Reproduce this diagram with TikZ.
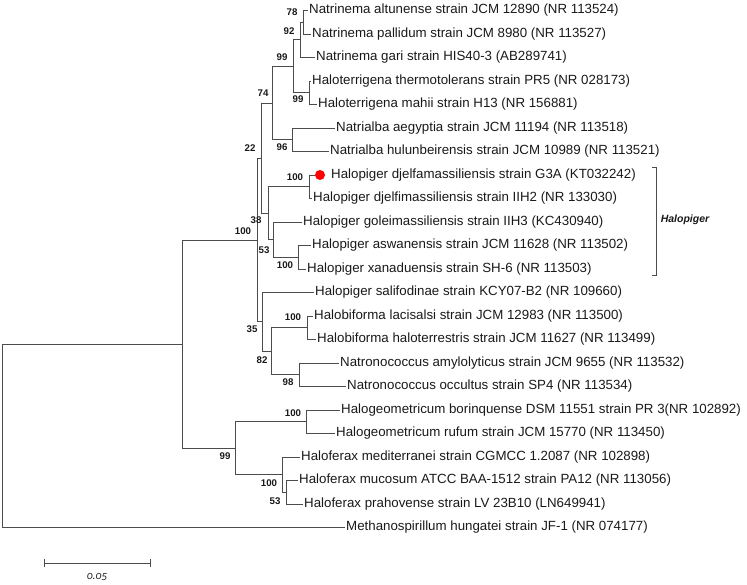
\documentclass[tikz,border=0pt]{standalone}
\usepackage{fontspec}
\setmainfont{Liberation Sans}
\newfontfamily\scalefnt[Numbers=OldStyle]{Carlito}
\begin{document}
\begin{tikzpicture}[x=1pt,y=-1pt,
  br/.style={draw=black!70,line width=0.9pt},
  leaf/.style={anchor=west,inner sep=1.5pt,text=black!90,font=\fontsize{13.3}{15}\selectfont},
  bs/.style={inner sep=0pt,text=black!90,font=\fontsize{9.7}{11}\selectfont\bfseries},
  pt/.style={coordinate}]
\useasboundingbox (0,0) rectangle (747,584);
% internal nodes
\coordinate (n78) at (303,22.25);
\coordinate (n92) at (300,39.9);
\coordinate (n99b) at (309,92.75);
\coordinate (n99a) at (293,66.3);
\coordinate (n96) at (292,139.75);
\coordinate (n74) at (272,103);
\coordinate (nG) at (309,186.75);
\coordinate (nAX) at (298,257.25);
\coordinate (n53a) at (273,239.6);
\coordinate (n38) at (268,213.2);
\coordinate (n22) at (261,158.1);
\coordinate (nHb) at (307,327.75);
\coordinate (n98) at (299,374.75);
\coordinate (n82) at (271,351.25);
\coordinate (n35) at (262,321.9);
\coordinate (nB) at (257,240);
\coordinate (nHg) at (306,421.75);
\coordinate (n53b) at (286,492.25);
\coordinate (nHf) at (282,474.6);
\coordinate (nC) at (235,448.2);
\coordinate (nA) at (182,344.1);
\coordinate (root) at (2,435.8);
% leaves
\node[leaf] (L0) at (307.5,10.5) {Natrinema altunense strain JCM 12890 (NR 113524)};
\node[leaf] (L1) at (310.5,34) {Natrinema pallidum strain JCM 8980 (NR 113527)};
\node[leaf] (L2) at (314.5,57.5) {Natrinema gari strain HIS40-3 (AB289741)};
\node[leaf] (L3) at (310.5,81) {Haloterrigena thermotolerans strain PR5 (NR 028173)};
\node[leaf] (L4) at (316.5,104.5) {Haloterrigena mahii strain H13 (NR 156881)};
\node[leaf] (L5) at (334.5,128) {Natrialba aegyptia strain JCM 11194 (NR 113518)};
\node[leaf] (L6) at (328.5,151.5) {Natrialba hulunbeirensis strain JCM 10989 (NR 113521)};
\node[circle,fill=red,minimum size=10pt,inner sep=0pt] (dot) at (320,175) {};
\node[leaf] (L7) at (329.5,175) {Halopiger djelfamassiliensis strain G3A (KT032242)};
\node[leaf] (L8) at (311.5,198.5) {Halopiger djelfimassiliensis strain IIH2 (NR 133030)};
\node[leaf] (L9) at (301.5,222) {Halopiger goleimassiliensis strain IIH3 (KC430940)};
\node[leaf] (L10) at (310.5,245.5) {Halopiger aswanensis strain JCM 11628 (NR 113502)};
\node[leaf] (L11) at (305.5,269) {Halopiger xanaduensis strain SH-6 (NR 113503)};
\node[leaf] (L12) at (313.5,292.5) {Halopiger salifodinae strain KCY07-B2 (NR 109660)};
\node[leaf] (L13) at (312.5,316) {Halobiforma lacisalsi strain JCM 12983 (NR 113500)};
\node[leaf] (L14) at (315.5,339.5) {Halobiforma haloterrestris strain JCM 11627 (NR 113499)};
\node[leaf] (L15) at (338.5,363) {Natronococcus amylolyticus strain JCM 9655 (NR 113532)};
\node[leaf] (L16) at (345.5,386.5) {Natronococcus occultus strain SP4 (NR 113534)};
\node[leaf] (L17) at (339.5,410) {Halogeometricum borinquense DSM 11551 strain PR 3(NR 102892)};
\node[leaf] (L18) at (334.5,433.5) {Halogeometricum rufum strain JCM 15770 (NR 113450)};
\node[leaf] (L19) at (299.5,457) {Haloferax mediterranei strain CGMCC 1.2087 (NR 102898)};
\node[leaf] (L20) at (297.5,480.5) {Haloferax mucosum ATCC BAA-1512 strain PA12 (NR 113056)};
\node[leaf] (L21) at (302.5,504) {Haloferax prahovense strain LV 23B10 (LN649941)};
\node[leaf] (L22) at (344.5,527.5) {Methanospirillum hungatei strain JF-1 (NR 074177)};
% branches
\draw[br] (n78) |- (L0.west); \draw[br] (n78) |- (L1.west);
\draw[br] (n92) |- (n78); \draw[br] (n92) |- (L2.west);
\draw[br] (n99b) |- (L3.west); \draw[br] (n99b) |- (L4.west);
\draw[br] (n99a) |- (n92); \draw[br] (n99a) |- (n99b);
\draw[br] (n96) |- (L5.west); \draw[br] (n96) |- (L6.west);
\draw[br] (n74) |- (n99a); \draw[br] (n74) |- (n96);
\draw[br] (nG) |- (dot.west); \draw[br] (nG) |- (L8.west);
\draw[br] (nAX) |- (L10.west); \draw[br] (nAX) |- (L11.west);
\draw[br] (n53a) |- (L9.west); \draw[br] (n53a) |- (nAX);
\draw[br] (n38) |- (nG); \draw[br] (n38) |- (n53a);
\draw[br] (n22) |- (n74); \draw[br] (n22) |- (n38);
\draw[br] (nHb) |- (L13.west); \draw[br] (nHb) |- (L14.west);
\draw[br] (n98) |- (L15.west); \draw[br] (n98) |- (L16.west);
\draw[br] (n82) |- (nHb); \draw[br] (n82) |- (n98);
\draw[br] (n35) |- (L12.west); \draw[br] (n35) |- (n82);
\draw[br] (nB) |- (n22); \draw[br] (nB) |- (n35);
\draw[br] (nHg) |- (L17.west); \draw[br] (nHg) |- (L18.west);
\draw[br] (n53b) |- (L20.west); \draw[br] (n53b) |- (L21.west);
\draw[br] (nHf) |- (L19.west); \draw[br] (nHf) |- (n53b);
\draw[br] (nC) |- (nHg); \draw[br] (nC) |- (nHf);
\draw[br] (nA) |- (nB); \draw[br] (nA) |- (nC);
\draw[br] (root) |- (nA); \draw[br] (root) |- (L22.west);
% bootstrap labels
\node[bs] (b78) at (292,12) {78};
\node[bs] (b92) at (289,31) {92};
\node[bs] (b99a) at (282,57) {99};
\node[bs] (b99b) at (298,99) {99};
\node[bs] (b74) at (263,93) {74};
\node[bs] (b96) at (282,147) {96};
\node[bs] (b22) at (250,148) {22};
\node[bs] (bG) at (295,177) {100};
\node[bs] (b38) at (256,220) {38};
\node[bs] (b53a) at (264,250) {53};
\node[bs] (bAX) at (285,265) {100};
\node[bs] (bB) at (243,231) {100};
\node[bs] (b35) at (252,329) {35};
\node[bs] (b82) at (262,360) {82};
\node[bs] (bHb) at (293,317) {100};
\node[bs] (b98) at (288,382) {98};
\node[bs] (bC) at (225,456) {99};
\node[bs] (bHg) at (293,413) {100};
\node[bs] (bHf) at (269,483) {100};
\node[bs] (b53b) at (275,501) {53};
% Halopiger bracket
\coordinate (brT) at (656,167);
\coordinate (brB) at (656,275);
\draw[br,line width=0.7pt] ([xshift=-4pt]brT) -- (brT) -- (brB) -- ([xshift=-4pt]brB);
\node[inner sep=0pt,text=black!90,font=\fontsize{10.5}{12}\selectfont\bfseries\itshape] (hp) at (685,220) {Halopiger};
% scale bar
\coordinate (sbL) at (44,563);
\coordinate (sbR) at (150,563);
\draw[br] (sbL) -- (sbR);
\draw[br] ([yshift=-4pt]sbL) -- ([yshift=4pt]sbL);
\draw[br] ([yshift=-4pt]sbR) -- ([yshift=4pt]sbR);
\node[inner sep=0pt,text=black!85,font=\scalefnt\itshape\fontsize{11.5}{13}\selectfont] (sbt) at (97,577) {0.05};
\end{tikzpicture}
\end{document}
